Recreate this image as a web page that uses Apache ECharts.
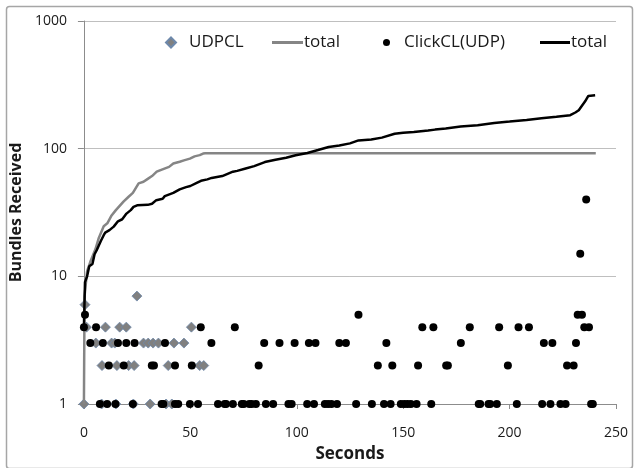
<!DOCTYPE html>
<html>
<head>
<meta charset="utf-8">
<script src="https://cdn.jsdelivr.net/npm/echarts@6/dist/echarts.min.js"></script>
<style>
html,body{margin:0;padding:0;background:#fff;}
#chart{width:634px;height:468px;}
</style>
</head>
<body>
<div id="chart"></div>
<script>
// Tick values
const xTicks = [0, 50, 100, 150, 200, 250];
const yTicks = [1, 10, 100, 1000];

// UDPCL per-interval bundles [seconds, bundles]
const udpclPoints = [
  [0, 1], [0.5, 6], [24.9, 7],
  [1.2, 4], [10.1, 4], [16.8, 4], [19.9, 4], [50.5, 4],
  [5.6, 3], [13, 3], [14.5, 3], [28, 3], [30.2, 3], [32.5, 3], [35, 3], [42.3, 3], [47, 3],
  [8.5, 2], [15.5, 2], [21, 2], [23.6, 2], [39.6, 2], [54.4, 2], [56.3, 2],
  [8.3, 1], [15, 1], [23.2, 1], [31.1, 1], [38.6, 1], [41.3, 1]
];

// UDPCL cumulative total [seconds, bundles]
const udpclTotal = [
  [0, 1], [0.3, 7], [1.5, 11], [3, 13], [5.4, 16.3], [7, 20], [9.3, 24.7], [11, 26],
  [13, 30], [15, 33], [18.7, 38.6], [21, 42], [23, 45], [25.7, 53.5], [28, 55],
  [30, 58], [32, 61], [34.2, 66], [36, 68], [40, 72], [42, 76.5], [45, 79],
  [47, 81], [49.8, 83.6], [52, 87], [54.4, 89], [56, 91.5], [57, 92], [240.5, 92]
];

// ClickCL(UDP) per-interval bundles [seconds, bundles]
const clickPoints = [
  [236, 40], [233.2, 15],
  [0.5, 5], [129, 5], [232, 5], [234, 5],
  [0, 4], [5.7, 4], [54.9, 4], [70.9, 4], [159, 4], [164.2, 4], [181.3, 4], [195.1, 4],
  [204.2, 4], [209.1, 4], [235.1, 4], [237.3, 4],
  [3, 3], [8.9, 3], [16, 3], [19.9, 3], [23.8, 3], [38.1, 3], [59.9, 3], [84.7, 3],
  [91.9, 3], [99, 3], [105.7, 3], [108.8, 3], [120, 3], [123.1, 3], [142.1, 3],
  [177.1, 3], [216.1, 3], [220.1, 3], [231.2, 3],
  [11.7, 2], [18.7, 2], [31.9, 2], [32.9, 2], [42.8, 2], [50.7, 2], [82.1, 2],
  [138.1, 2], [144.9, 2], [157, 2], [170.2, 2], [171, 2], [199.2, 2], [227, 2], [230.1, 2],
  [7.5, 1], [10.9, 1], [14.8, 1], [23, 1], [36.5, 1], [37.3, 1], [42.8, 1], [44.3, 1],
  [49.8, 1], [53.6, 1], [63, 1], [66.1, 1], [66.8, 1], [70, 1], [74.2, 1], [75.1, 1],
  [77.7, 1], [78.8, 1], [80.8, 1], [85.5, 1], [88.9, 1], [96.1, 1], [97.6, 1], [104.9, 1],
  [108.1, 1], [113.2, 1], [114.7, 1], [116.3, 1], [118.9, 1], [127.9, 1], [135.3, 1],
  [141, 1], [144.1, 1], [148.9, 1], [150.5, 1], [152, 1], [153.6, 1], [156.3, 1],
  [163.2, 1], [185.5, 1], [186.2, 1], [190.1, 1], [190.9, 1], [194, 1], [203.4, 1],
  [215.3, 1], [219.2, 1], [223.9, 1], [226.3, 1], [238.3, 1], [239.1, 1]
];

// ClickCL(UDP) cumulative total [seconds, bundles]
const clickTotal = [
  [0, 4], [0.5, 9], [1.5, 10], [2.5, 12], [4, 12.5], [5, 14.9], [6, 16], [8, 19],
  [9.3, 21], [10, 22], [12, 23], [14, 24.5], [16, 27], [18, 28], [20, 31], [22, 33],
  [23.3, 35], [25, 36], [30, 36.3], [32, 37], [34, 39.5], [37, 40.5], [38, 42.5],
  [42, 45], [45, 48], [48, 50], [50, 51], [53, 54], [55, 56], [58, 57.5], [60, 59],
  [65, 61], [70, 66], [72, 67], [76, 70], [80, 73], [85, 78.5], [90, 82], [95, 85],
  [99.5, 88.7], [105, 92.5], [110, 97.5], [115, 103], [120, 106], [125, 110],
  [129, 116], [135, 118], [140, 122], [146, 130.7], [150, 133], [155, 135],
  [161.7, 138.6], [165, 141], [170, 144], [177, 149], [185, 152.5], [192.8, 159],
  [200, 163], [208, 168], [215, 173], [222, 178], [228.5, 183], [230.9, 192],
  [232.5, 200], [234, 217], [235.5, 235], [237, 259], [240.2, 262]
];

const FONT = '"Open Sans", "Noto Sans", sans-serif';
const chart = echarts.init(document.getElementById('chart'), null, {renderer: 'canvas'});

const legendText = {fontFamily: FONT, fontSize: 17, color: '#1a1a1a'};
const nameFmt = function (n) { return n.indexOf('total') >= 0 ? 'total' : n; };
const LEG_TOP = 34;

chart.setOption({
  animation: false,
  backgroundColor: '#ffffff',
  graphic: [{
    type: 'rect', left: 4, top: 4, silent: true,
    shape: {width: 626, height: 462, r: 3},
    style: {fill: 'none', stroke: '#a6a6a6', lineWidth: 1.5}
  }],
  grid: {left: 80, right: 18, top: 21, bottom: 60, containLabel: false},
  legend: [
    {data: ['UDPCL'], left: 165, top: LEG_TOP, padding: 0, itemWidth: 10, itemHeight: 10, formatter: nameFmt,
     textStyle: Object.assign({padding: [0, 0, 0, 8]}, legendText), selectedMode: false},
    {data: [{name: 'UDPCL total', icon: 'rect', itemStyle: {color: '#858585'}}], left: 272, top: LEG_TOP, padding: 0,
     itemWidth: 31, itemHeight: 3, formatter: nameFmt,
     textStyle: Object.assign({padding: [0, 0, 0, -4]}, legendText), selectedMode: false},
    {data: ['ClickCL(UDP)'], left: 383, top: LEG_TOP, padding: 0, itemWidth: 7, itemHeight: 7, formatter: nameFmt,
     textStyle: Object.assign({padding: [0, 0, 0, 9]}, legendText), selectedMode: false},
    {data: [{name: 'ClickCL total', icon: 'rect', itemStyle: {color: '#000000'}}], left: 540, top: LEG_TOP, padding: 0,
     itemWidth: 30, itemHeight: 3, formatter: nameFmt,
     textStyle: Object.assign({padding: [0, 0, 0, -4]}, legendText), selectedMode: false}
  ],
  xAxis: {
    type: 'value', min: xTicks[0], max: xTicks[xTicks.length - 1], interval: 50,
    name: 'Seconds', nameLocation: 'middle', nameGap: 42,
    nameTextStyle: {fontFamily: FONT, fontSize: 17, fontWeight: 'bold', color: '#1a1a1a'},
    axisLine: {show: true, onZero: false, lineStyle: {color: '#8c8c8c', width: 1}},
    axisTick: {show: true, inside: false, length: 5, lineStyle: {color: '#8c8c8c'}},
    axisLabel: {fontFamily: FONT, fontSize: 14, color: '#1a1a1a', margin: 22},
    splitLine: {show: false}
  },
  yAxis: {
    type: 'log', logBase: 10, min: yTicks[0], max: yTicks[yTicks.length - 1],
    name: 'Bundles Received', nameLocation: 'middle', nameGap: 39, nameRotate: 90,
    nameTextStyle: {fontFamily: FONT, fontSize: 16, fontWeight: 'bold', color: '#1a1a1a'},
    axisLine: {show: true, lineStyle: {color: '#8c8c8c', width: 1}},
    axisTick: {show: true, inside: false, length: 6, lineStyle: {color: '#8c8c8c'}},
    axisLabel: {fontFamily: FONT, fontSize: 14, color: '#1a1a1a', margin: 17,
      formatter: function (v) { return String(Math.round(v)); }},
    splitLine: {show: true, lineStyle: {color: '#bfbfbf', width: 1}},
    minorTick: {show: false}
  },
  series: [
    {
      name: 'UDPCL', type: 'scatter', data: udpclPoints, symbol: 'diamond', symbolSize: 10,
      itemStyle: {color: '#808080', borderColor: '#6d88aa', borderWidth: 0.8, opacity: 1}, z: 2
    },
    {
      name: 'UDPCL total', type: 'line', data: udpclTotal, symbol: 'none', showSymbol: false,
      lineStyle: {color: '#858585', width: 2.5}, itemStyle: {color: '#858585'}, z: 3
    },
    {
      name: 'ClickCL(UDP)', type: 'scatter', data: clickPoints, symbol: 'circle', symbolSize: 8,
      itemStyle: {color: '#000000', opacity: 1}, z: 4
    },
    {
      name: 'ClickCL total', type: 'line', data: clickTotal, symbol: 'none', showSymbol: false,
      lineStyle: {color: '#000000', width: 2.5}, itemStyle: {color: '#000000'}, z: 5
    }
  ]
});
</script>
</body>
</html>
